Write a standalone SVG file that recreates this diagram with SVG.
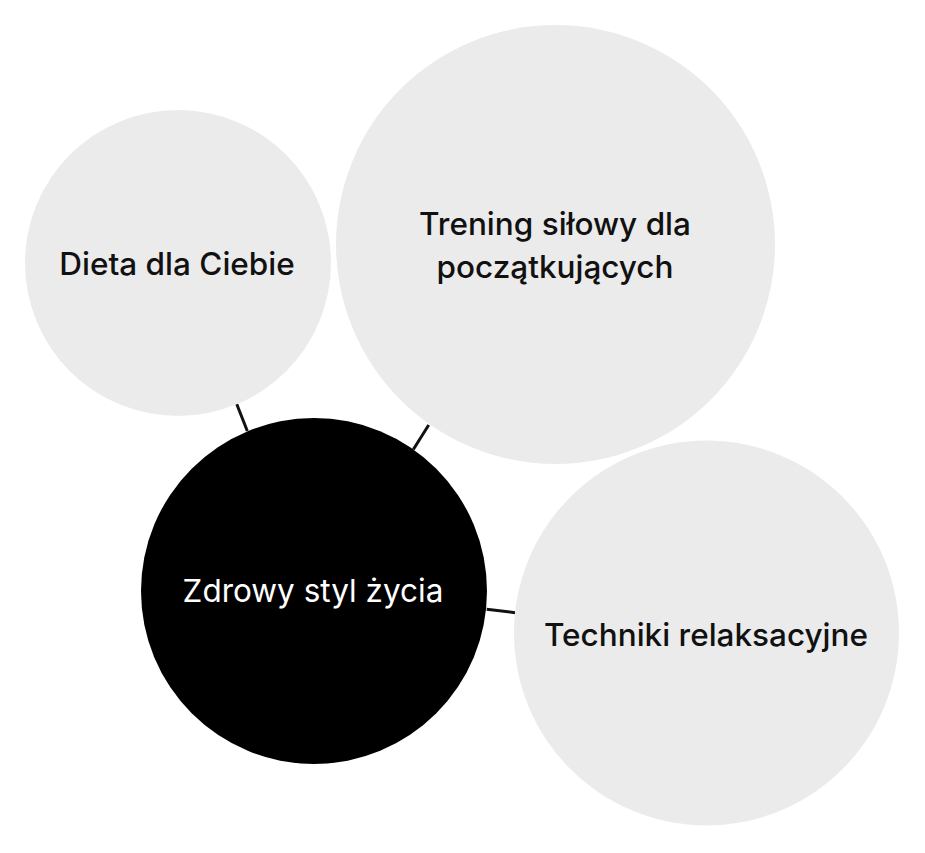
<svg xmlns="http://www.w3.org/2000/svg" width="925" height="853" viewBox="0 0 925 853">
<style>
.n{fill:#ebebeb}
.c{fill:#000}
.t{font-family:Inter,"Noto Sans",sans-serif;font-size:31.5px;text-anchor:middle}
.d{fill:#111;font-weight:500}
.w{fill:#fff;font-weight:400}
.e{stroke:#111;stroke-width:3}
</style>
<rect width="925" height="853" fill="#fff"/>
<g id="connectors">
<line class="e" x1="236.7" y1="404" x2="247.3" y2="431"/>
<line class="e" x1="428.7" y1="425" x2="413.3" y2="449.5"/>
<line class="e" x1="486.7" y1="609.3" x2="515" y2="612.7"/>
</g>
<g id="dieta">
<circle class="n" cx="178" cy="263" r="153"/>
<text class="t d" x="177" y="275">Dieta dla Ciebie</text>
</g>
<g id="trening">
<circle class="n" cx="555.5" cy="244.5" r="219.5"/>
<text class="t d" x="555" y="235">Trening siłowy dla</text>
<text class="t d" x="555" y="278">początkujących</text>
</g>
<g id="techniki">
<circle class="n" cx="706.5" cy="633" r="192.5"/>
<text class="t d" x="706" y="646">Techniki relaksacyjne</text>
</g>
<g id="zdrowy">
<circle class="c" cx="314" cy="591" r="173"/>
<text class="t w" x="313" y="602">Zdrowy styl życia</text>
</g>
</svg>
